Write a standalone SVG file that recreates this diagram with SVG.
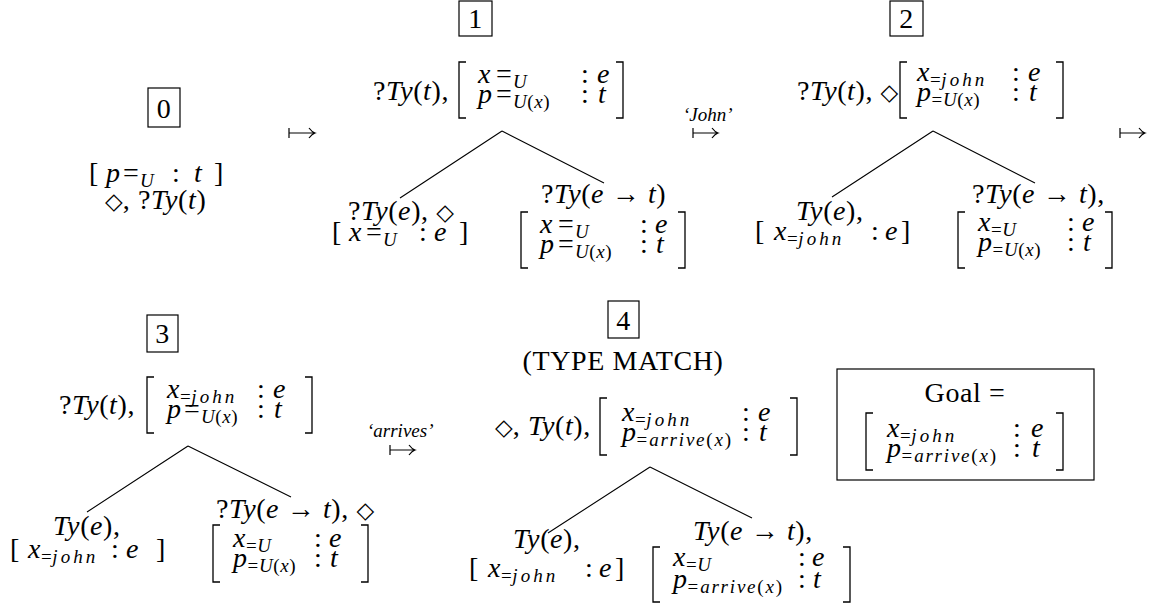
<svg xmlns="http://www.w3.org/2000/svg" width="1155" height="610" viewBox="0 0 1155 610">
<style>
.m{font-family:"Liberation Serif","Times New Roman",serif;font-size:28px;fill:#000;letter-spacing:0.6px}
.i{font-style:italic}
.s{font-size:19px}
.sj{letter-spacing:3px}
.sa{letter-spacing:1.8px}
.sy{font-family:"DejaVu Sans",sans-serif;font-size:23px;letter-spacing:0}
.lbl{font-family:"Liberation Serif","Times New Roman",serif;font-size:19px;font-style:italic;fill:#000}
.box{fill:none;stroke:#000;stroke-width:1.2}
.br{fill:none;stroke:#000;stroke-width:1.3}
.edge{fill:none;stroke:#000;stroke-width:1.1}
.arr{fill:none;stroke:#000;stroke-width:1.2}
</style>
<rect width="1155" height="610" fill="#fff"/>

<g id="connectors">
  <path class="edge" d="M502,131 L400,198 M502,131 L604,183"/>
  <path class="edge" d="M933,131 L832,197 M933,131 L1035,183"/>
  <path class="edge" d="M188,446 L87,512 M188,446 L291,497"/>
  <path class="edge" d="M650,467 L548,533 M650,467 L752,518"/>
  <path class="arr" d="M289,128 V138 M289,133 H315 M309,128 Q312,132 315,133 Q312,134 309,138"/>
  <path class="arr" d="M693,128 V138 M693,133 H718 M712,128 Q715,132 718,133 Q715,134 712,138"/>
  <path class="arr" d="M1120,128 V138 M1120,133 H1145 M1139,128 Q1142,132 1145,133 Q1142,134 1139,138"/>
  <path class="arr" d="M390,445 V455 M390,450 H415 M409,445 Q412,449 415,450 Q412,451 409,455"/>
  <text class="lbl" x="683" y="121">‘John’</text>
  <text class="lbl" x="367" y="437">‘arrives’</text>
</g>

<g id="state0">
  <rect class="box" x="148" y="88" width="32" height="39"/>
  <text class="m" x="164" y="118" text-anchor="middle">0</text>
  <text class="m"><tspan x="89" y="182">[</tspan><tspan x="106" class="i">p</tspan><tspan x="123">=</tspan><tspan x="140" dy="5" class="i s">U</tspan><tspan x="172" y="182">:</tspan><tspan x="194" class="i">t</tspan><tspan x="214">]</tspan><tspan x="105" y="209" class="sy">◇</tspan><tspan>, ?</tspan><tspan class="i">Ty</tspan><tspan>(</tspan><tspan class="i">t</tspan><tspan>)</tspan></text>
</g>

<g id="state1">
  <rect class="box" x="459" y="1" width="33" height="35"/>
  <text class="m" x="475.5" y="28" text-anchor="middle">1</text>
  <g id="s1-root">
    <path class="br" d="M466,62 H459 V118 H466 M616,62 H623 V118 H616"/>
    <text class="m"><tspan x="373" y="100">?</tspan><tspan class="i">Ty</tspan><tspan>(</tspan><tspan class="i">t</tspan><tspan>),</tspan><tspan x="478" y="83" class="i">x</tspan><tspan x="496">=</tspan><tspan x="513" dy="5" class="i s">U</tspan><tspan x="581" y="83">:</tspan><tspan x="597" class="i">e</tspan><tspan x="478" y="103" class="i">p</tspan><tspan x="496">=</tspan><tspan x="513" dy="5" class="s"><tspan class="i">U</tspan>(<tspan class="i">x</tspan>)</tspan><tspan x="581" y="103">:</tspan><tspan x="598" class="i">t</tspan></text>
  </g>
  <g id="s1-left">
    <text class="m"><tspan x="348" y="220">?</tspan><tspan class="i">Ty</tspan><tspan>(</tspan><tspan class="i">e</tspan><tspan>), </tspan><tspan class="sy">◇</tspan><tspan x="332" y="241">[</tspan><tspan x="349" class="i">x</tspan><tspan x="366">=</tspan><tspan x="383" dy="5" class="i s">U</tspan><tspan x="419" y="241">:</tspan><tspan x="434" class="i">e</tspan><tspan x="459">]</tspan></text>
  </g>
  <g id="s1-right">
    <path class="br" d="M528,212 H521 V268 H528 M678,212 H685 V268 H678"/>
    <text class="m"><tspan x="541" y="203">?</tspan><tspan class="i">Ty</tspan><tspan>(</tspan><tspan class="i">e</tspan><tspan> → </tspan><tspan class="i">t</tspan><tspan>)</tspan><tspan x="540" y="233" class="i">x</tspan><tspan x="558">=</tspan><tspan x="575" dy="5" class="i s">U</tspan><tspan x="640" y="233">:</tspan><tspan x="655" class="i">e</tspan><tspan x="540" y="253" class="i">p</tspan><tspan x="558">=</tspan><tspan x="575" dy="5" class="s"><tspan class="i">U</tspan>(<tspan class="i">x</tspan>)</tspan><tspan x="640" y="253">:</tspan><tspan x="656" class="i">t</tspan></text>
  </g>
</g>

<g id="state2">
  <rect class="box" x="890" y="1" width="33" height="35"/>
  <text class="m" x="906.5" y="28" text-anchor="middle">2</text>
  <g id="s2-root">
    <path class="br" d="M907,62 H900 V118 H907 M1056,62 H1063 V118 H1056"/>
    <text class="m"><tspan x="797" y="100">?</tspan><tspan class="i">Ty</tspan><tspan>(</tspan><tspan class="i">t</tspan><tspan>), </tspan><tspan class="sy">◇</tspan><tspan x="917" y="81" class="i">x</tspan><tspan dy="5" class="s">=<tspan class="i sj">john</tspan></tspan><tspan x="1012" y="81">:</tspan><tspan x="1028" class="i">e</tspan><tspan x="917" y="101" class="i">p</tspan><tspan dy="5" class="s">=<tspan class="i">U</tspan>(<tspan class="i">x</tspan>)</tspan><tspan x="1012" y="101">:</tspan><tspan x="1029" class="i">t</tspan></text>
  </g>
  <g id="s2-left">
    <text class="m"><tspan x="796" y="220" class="i">Ty</tspan><tspan>(</tspan><tspan class="i">e</tspan><tspan>),</tspan><tspan x="755" y="240">[</tspan><tspan x="774" class="i">x</tspan><tspan dy="5" class="s">=<tspan class="i sj">john</tspan></tspan><tspan x="871" y="240">:</tspan><tspan x="885" class="i">e</tspan><tspan x="901">]</tspan></text>
  </g>
  <g id="s2-right">
    <path class="br" d="M965,212 H958 V268 H965 M1105,212 H1112 V268 H1105"/>
    <text class="m"><tspan x="972" y="203">?</tspan><tspan class="i">Ty</tspan><tspan>(</tspan><tspan class="i">e</tspan><tspan> → </tspan><tspan class="i">t</tspan><tspan>),</tspan><tspan x="978" y="231" class="i">x</tspan><tspan dy="5" class="s">=<tspan class="i">U</tspan></tspan><tspan x="1067" y="231">:</tspan><tspan x="1082" class="i">e</tspan><tspan x="978" y="251" class="i">p</tspan><tspan dy="5" class="s">=<tspan class="i">U</tspan>(<tspan class="i">x</tspan>)</tspan><tspan x="1067" y="251">:</tspan><tspan x="1083" class="i">t</tspan></text>
  </g>
</g>

<g id="state3">
  <rect class="box" x="147" y="315" width="31" height="37"/>
  <text class="m" x="162.5" y="343" text-anchor="middle">3</text>
  <g id="s3-root">
    <path class="br" d="M154,377 H147 V433 H154 M305,377 H312 V433 H305"/>
    <text class="m"><tspan x="59" y="414">?</tspan><tspan class="i">Ty</tspan><tspan>(</tspan><tspan class="i">t</tspan><tspan>),</tspan><tspan x="167" y="398" class="i">x</tspan><tspan dy="5" class="s">=<tspan class="i sj">john</tspan></tspan><tspan x="257" y="398">:</tspan><tspan x="273" class="i">e</tspan><tspan x="167" y="418" class="i">p</tspan><tspan x="184">=</tspan><tspan x="201" dy="5" class="s"><tspan class="i">U</tspan>(<tspan class="i">x</tspan>)</tspan><tspan x="257" y="418">:</tspan><tspan x="274" class="i">t</tspan></text>
  </g>
  <g id="s3-left">
    <text class="m"><tspan x="53" y="535" class="i">Ty</tspan><tspan>(</tspan><tspan class="i">e</tspan><tspan>),</tspan><tspan x="10" y="558">[</tspan><tspan x="28" class="i">x</tspan><tspan dy="5" class="s">=<tspan class="i sj">john</tspan></tspan><tspan x="111" y="558">:</tspan><tspan x="126" class="i">e</tspan><tspan x="156">]</tspan></text>
  </g>
  <g id="s3-right">
    <path class="br" d="M220,525 H213 V582 H220 M361,525 H368 V582 H361"/>
    <text class="m"><tspan x="216" y="518">?</tspan><tspan class="i">Ty</tspan><tspan>(</tspan><tspan class="i">e</tspan><tspan> → </tspan><tspan class="i">t</tspan><tspan>), </tspan><tspan class="sy">◇</tspan><tspan x="233" y="547" class="i">x</tspan><tspan dy="5" class="s">=<tspan class="i">U</tspan></tspan><tspan x="314" y="547">:</tspan><tspan x="329" class="i">e</tspan><tspan x="233" y="567" class="i">p</tspan><tspan dy="5" class="s">=<tspan class="i">U</tspan>(<tspan class="i">x</tspan>)</tspan><tspan x="314" y="567">:</tspan><tspan x="330" class="i">t</tspan></text>
  </g>
</g>

<g id="state4">
  <rect class="box" x="608" y="301" width="31" height="37"/>
  <text class="m" x="623.5" y="330" text-anchor="middle">4</text>
  <text class="m" x="623" y="370" text-anchor="middle">(TYPE MATCH)</text>
  <g id="s4-root">
    <path class="br" d="M607,398 H600 V455 H607 M790,398 H797 V455 H790"/>
    <text class="m"><tspan x="495" y="435" class="sy">◇</tspan><tspan>, </tspan><tspan class="i">Ty</tspan><tspan>(</tspan><tspan class="i">t</tspan><tspan>),</tspan><tspan x="622" y="421" class="i">x</tspan><tspan dy="5" class="s">=<tspan class="i sj">john</tspan></tspan><tspan x="742" y="421">:</tspan><tspan x="758" class="i">e</tspan><tspan x="622" y="441" class="i">p</tspan><tspan dy="5" class="s sa">=<tspan class="i">arrive</tspan>(<tspan class="i">x</tspan>)</tspan><tspan x="742" y="441">:</tspan><tspan x="759" class="i">t</tspan></text>
  </g>
  <g id="s4-left">
    <text class="m"><tspan x="513" y="548" class="i">Ty</tspan><tspan>(</tspan><tspan class="i">e</tspan><tspan>),</tspan><tspan x="469" y="577">[</tspan><tspan x="488" class="i">x</tspan><tspan dy="5" class="s">=<tspan class="i sj">john</tspan></tspan><tspan x="585" y="577">:</tspan><tspan x="599" class="i">e</tspan><tspan x="615">]</tspan></text>
  </g>
  <g id="s4-right">
    <path class="br" d="M660,547 H653 V602 H660 M843,547 H850 V602 H843"/>
    <text class="m"><tspan x="693" y="540" class="i">Ty</tspan><tspan>(</tspan><tspan class="i">e</tspan><tspan> → </tspan><tspan class="i">t</tspan><tspan>),</tspan><tspan x="673" y="566" class="i">x</tspan><tspan dy="5" class="s">=<tspan class="i">U</tspan></tspan><tspan x="798" y="566">:</tspan><tspan x="812" class="i">e</tspan><tspan x="673" y="588" class="i">p</tspan><tspan dy="5" class="s sa">=<tspan class="i">arrive</tspan>(<tspan class="i">x</tspan>)</tspan><tspan x="798" y="588">:</tspan><tspan x="813" class="i">t</tspan></text>
  </g>
</g>

<g id="goal">
  <rect class="box" x="837" y="369" width="257" height="111"/>
  <path class="br" d="M873,413 H866 V470 H873 M1056,413 H1063 V470 H1056"/>
  <text class="m"><tspan x="965" y="402" text-anchor="middle">Goal =</tspan><tspan x="887" y="437" text-anchor="start" class="i">x</tspan><tspan dy="5" class="s">=<tspan class="i sj">john</tspan></tspan><tspan x="1013" y="437">:</tspan><tspan x="1031" class="i">e</tspan><tspan x="887" y="457" class="i">p</tspan><tspan dy="5" class="s sa">=<tspan class="i">arrive</tspan>(<tspan class="i">x</tspan>)</tspan><tspan x="1013" y="457">:</tspan><tspan x="1032" class="i">t</tspan></text>
</g>
</svg>
